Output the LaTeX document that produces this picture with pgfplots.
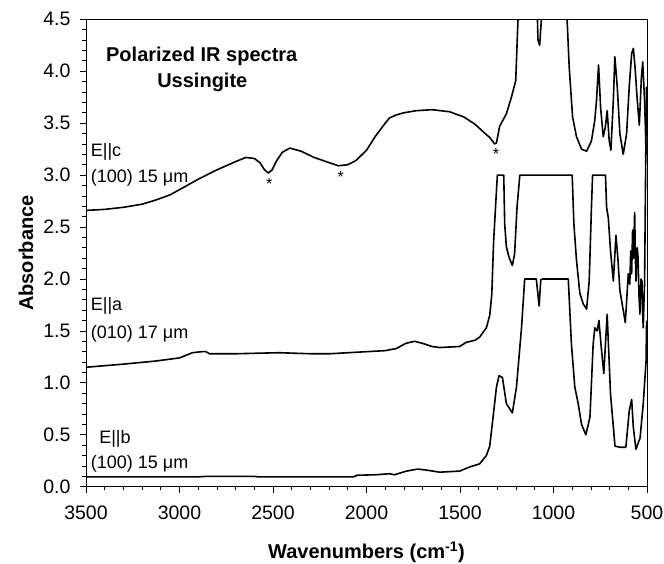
\documentclass[border=0pt]{standalone}
\usepackage{fontspec}
\setmainfont{Liberation Sans}
\usepackage{pgfplots}
\pgfplotsset{compat=1.18}
\pgfplotsset{spec/.style={black, line width=1.6pt, line join=round, mark=none}}
\begin{document}
\begin{tikzpicture}
\begin{axis}[
  at={(0,0)}, anchor=south west,
  scale only axis, width=561pt, height=467.4pt,
  x dir=reverse, xmin=500, xmax=3500, ymin=0, ymax=4.5,
  xtick={500,1000,1500,2000,2500,3000,3500}, minor x tick num=4,
  ytick={0,0.5,1,1.5,2,2.5,3,3.5,4,4.5}, minor y tick num=4,
  tick align=outside, tick pos=left,
  major tick length=6pt, minor tick length=3.5pt,
  axis line style={line width=0.8pt},
  every tick/.style={black, line width=0.7pt},
  /pgf/number format/assume math mode=true,
  x tick label style={font=\fontsize{19.5}{21}\selectfont, yshift=-10pt, /pgf/number format/1000 sep={}},
  y tick label style={font=\fontsize{19.5}{21}\selectfont, xshift=-6pt, /pgf/number format/fixed, /pgf/number format/fixed zerofill, /pgf/number format/precision=1},
  xlabel={Wavenumbers (cm\textsuperscript{-1})},
  ylabel={Absorbance},
  label style={font=\fontsize{20}{22}\selectfont\bfseries},
  xlabel style={at={(axis description cs:0.5,0)}, anchor=center, yshift=-65.7pt},
  ylabel style={at={(axis description cs:-0.107,0.5)}, anchor=center},
]
% E||c
\addplot[spec] coordinates {
(3500,2.66) (3400,2.67) (3300,2.69) (3200,2.72) (3127,2.76) (3050,2.81) (3000,2.86)
(2900,2.96) (2800,3.05) (2700,3.13) (2645,3.17) (2600,3.16) (2570,3.12) (2545,3.05)
(2525,3.02) (2505,3.05) (2480,3.14) (2450,3.22) (2410,3.26) (2350,3.23) (2280,3.17)
(2200,3.12) (2150,3.09) (2100,3.10) (2056,3.14) (2000,3.24) (1950,3.38) (1900,3.50)
(1877,3.55) (1840,3.58) (1800,3.60) (1734,3.62) (1650,3.63) (1556,3.61) (1480,3.56)
(1420,3.49) (1378,3.42) (1340,3.36) (1315,3.30) (1305,3.31) (1288,3.47) (1252,3.59)
(1225,3.75) (1202,3.91) (1190,4.49) (1185,4.8) (1090,4.8) (1083,4.30) (1074,4.25)
(1065,4.49) (1060,4.8) (930,4.8) (927,4.49) (916,4.04) (898,3.56) (877,3.37) (850,3.25)
(823,3.23) (797,3.33) (779,3.53) (770,3.72) (759,4.06) (748,3.65) (734,3.37) (723,3.46)
(713,3.62) (702,3.33) (693,3.24) (680,3.72) (672,4.14) (659,3.85) (645,3.40) (627,3.20)
(609,3.40) (595,3.85) (582,4.17) (573,4.22) (564,4.04) (552,3.72) (541,3.48) (530,3.94)
(523,4.09) (513,3.72) (509,3.49) (505,3.2)
};
% E||a
\addplot[spec] coordinates {
(3500,1.15) (3300,1.18) (3127,1.21) (3000,1.24) (2931,1.29) (2880,1.30) (2859,1.30)
(2840,1.28) (2700,1.28) (2466,1.29) (2300,1.28) (2198,1.28) (2000,1.30) (1900,1.31)
(1841,1.33) (1790,1.38) (1743,1.40) (1700,1.38) (1650,1.35) (1609,1.34) (1502,1.35)
(1466,1.39) (1420,1.41) (1395,1.44) (1359,1.53) (1341,1.65) (1330,1.85) (1320,2.37)
(1305,2.85) (1300,3.0) (1266,3.0) (1261,2.53) (1252,2.31) (1238,2.21) (1220,2.13)
(1208,2.24) (1195,2.69) (1180,3.0) (900,3.0) (891,2.53) (877,2.18) (859,1.86)
(841,1.76) (823,1.71) (809,1.98) (797,2.69) (791,3.0) (722,3.0) (716,2.69) (707,2.59)
(695,2.27) (680,1.98) (666,2.42) (655,2.18) (645,1.89) (630,1.73) (616,1.58) (600,2.05)
(592,1.95) (587,2.27) (582,2.05) (577,2.47) (572,2.2) (566,2.64) (562,2.2) (559,1.98)
(552,2.3) (548,2.21) (543,1.85) (538,1.66) (532,2.0) (527,1.98) (524,1.7) (520,1.53)
(516,1.8) (513,1.95) (506,3.3) (503,3.85)
};
% E||b
\addplot[spec] coordinates {
(3500,0.095) (2900,0.095) (2850,0.10) (2600,0.10) (2580,0.095) (2069,0.095) (2050,0.11)
(1950,0.115) (1877,0.125) (1850,0.115) (1787,0.15) (1725,0.17) (1680,0.16) (1609,0.14)
(1502,0.15) (1448,0.19) (1395,0.22) (1359,0.30) (1341,0.39) (1323,0.67) (1305,0.96)
(1291,1.07) (1273,1.05) (1252,0.80) (1234,0.75) (1220,0.71) (1198,0.96) (1171,1.53)
(1154,2.0) (1092,2.0) (1083,1.85) (1077,1.74) (1068,1.99) (1060,2.0) (921,2.0)
(904,1.37) (886,0.96) (868,0.80) (850,0.60) (827,0.50) (805,0.67) (788,1.37) (779,1.53)
(766,1.50) (757,1.60) (745,1.35) (731,1.09) (713,1.66) (695,0.89) (671,0.39) (645,0.38)
(613,0.38) (595,0.73) (582,0.84) (573,0.57) (559,0.36) (537,0.47) (520,0.80) (505,1.21)
(502,1.6)
};
\node[anchor=base, font=\fontsize{20}{22}\selectfont\bfseries] at (axis cs:2881,4.09) {Polarized IR spectra};
\node[anchor=base, font=\fontsize{20}{22}\selectfont\bfseries] at (axis cs:2878,3.845) {Ussingite};
\begin{scope}[every node/.style={anchor=base west, inner sep=0pt, font=\fontsize{18}{20}\selectfont}]
\node at (axis cs:3475,3.18) {E||c};
\node at (axis cs:3475,2.93) {(100) 15 μm};
\node at (axis cs:3475,1.70) {E||a};
\node at (axis cs:3475,1.43) {(010) 17 μm};
\node at (axis cs:3430,0.42) {E||b};
\node at (axis cs:3475,0.18) {(100) 15 μm};
\end{scope}
\begin{scope}[every node/.style={anchor=base, inner sep=0pt, font=\fontsize{16}{18}\selectfont}]
\node at (axis cs:2520,2.86) {*};
\node at (axis cs:2138,2.93) {*};
\node at (axis cs:1307,3.15) {*};
\end{scope}
\end{axis}
\pgfresetboundingbox
\path[use as bounding box] (-86pt,-76.3pt) rectangle (578pt,486.7pt);
\end{tikzpicture}
\end{document}
